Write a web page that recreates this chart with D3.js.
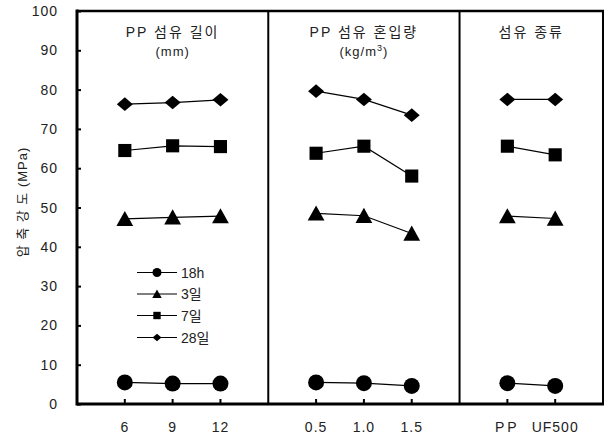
<!DOCTYPE html>
<html>
<head>
<meta charset="utf-8">
<script src="https://cdn.jsdelivr.net/npm/d3@7"></script>
<style>
  body { margin: 0; background: #fff; }
  text { font-family: "Liberation Sans", Arial, "Noto Sans CJK KR", sans-serif; fill: #222; }
</style>
</head>
<body>
<div id="chart"></div>
<script>
// panels (groups) and categories
var groups = ["PP 섬유 길이", "PP 섬유 혼입량", "섬유 종류"];
var categories = ["6", "9", "12", "0.5", "1.0", "1.5", "PP", "UF500"];
var groupOf = [0, 0, 0, 1, 1, 1, 2, 2];

// compressive strength (MPa)
var seriesNames = ["18h", "3일", "7일", "28일"];
var h18 = [5.5, 5.2, 5.2, 5.5, 5.3, 4.6, 5.3, 4.6];
var d3d = [47.1, 47.5, 47.8, 48.5, 47.9, 43.4, 47.8, 47.2];
var d7 = [64.5, 65.7, 65.5, 63.8, 65.6, 58.0, 65.6, 63.4];
var d28 = [76.3, 76.7, 77.4, 79.6, 77.5, 73.5, 77.5, 77.5];

var yTicks = [0, 10, 20, 30, 40, 50, 60, 70, 80, 90, 100];

function init() {
    chart();
}

function marker(sel, type, s) {
    // s = half size
    if (type == "circle") {
        sel.append("circle").attr("r", s).attr("fill", "#000");
    } else if (type == "triangle") {
        sel.append("path").attr("d", "M0," + (-s) + "L" + (s * 1.05) + "," + (s * 0.9) + "L" + (-s * 1.05) + "," + (s * 0.9) + "Z").attr("fill", "#000");
    } else if (type == "square") {
        sel.append("rect").attr("x", -s * 0.82).attr("y", -s * 0.82).attr("width", s * 1.64).attr("height", s * 1.64).attr("fill", "#000");
    } else {
        sel.append("path").attr("d", "M0," + (-s * 0.85) + "L" + s + ",0L0," + (s * 0.85) + "L" + (-s) + ",0Z").attr("fill", "#000");
    }
}

function chart() {
    var w = 609;
    var h = 438;
    var left = 77, right = 603, top = 11, bottom = 404;

    var svg = d3.select("#chart")
        .append("svg")
        .attr("width", w)
        .attr("height", h);

    // slot index leaves an empty slot between panels
    var slot = categories.map(function (c, i) { return i + groupOf[i]; });
    var x = d3.scaleLinear().domain([-1, categories.length + groups.length - 1]).range([left, right]);
    var y = d3.scaleLinear().domain([0, 100]).range([bottom, top]);

    var data = [h18, d3d, d7, d28];
    var types = ["circle", "triangle", "square", "diamond"];

    // y ticks and labels
    var yAxis = d3.axisRight(y).tickValues(yTicks).tickSize(4).tickFormat("");
    svg.append("g").attr("transform", "translate(" + left + ",0)").call(yAxis)
        .call(function (g) { g.select(".domain").remove(); })
        .selectAll("line").attr("stroke", "#000").attr("stroke-width", 2);

    svg.selectAll(".ylab")
        .data(yTicks)
        .enter()
        .append("text")
        .attr("x", 58)
        .attr("y", function (d) { return y(d); })
        .attr("dy", "0.36em")
        .attr("text-anchor", "end")
        .style("font-size", "14px")
        .style("letter-spacing", "1px")
        .text(function (d) { return d; });

    // x ticks (pointing up) and labels
    svg.selectAll(".xtick")
        .data(slot)
        .enter()
        .append("line")
        .attr("x1", function (d) { return x(d); })
        .attr("x2", function (d) { return x(d); })
        .attr("y1", bottom)
        .attr("y2", bottom - 5)
        .attr("stroke", "#000")
        .attr("stroke-width", 2);

    svg.selectAll(".xlab")
        .data(categories)
        .enter()
        .append("text")
        .attr("x", function (d, i) { return x(slot[i]); })
        .attr("y", 432)
        .attr("text-anchor", "middle")
        .style("font-size", "14px")
        .style("letter-spacing", function (d) { return d == "PP" ? "3px" : "1px"; })
        .text(function (d) { return d; });

    // frame
    svg.append("line").attr("x1", left).attr("x2", left).attr("y1", top - 1.5).attr("y2", bottom + 1.5).attr("stroke", "#000").attr("stroke-width", 3);
    svg.append("line").attr("x1", left).attr("x2", right + 1).attr("y1", bottom).attr("y2", bottom).attr("stroke", "#000").attr("stroke-width", 3);
    svg.append("line").attr("x1", left).attr("x2", right + 1).attr("y1", top).attr("y2", top).attr("stroke", "#000").attr("stroke-width", 2.5);
    svg.append("line").attr("x1", right).attr("x2", right).attr("y1", top).attr("y2", bottom).attr("stroke", "#000").attr("stroke-width", 2);

    // panel dividers
    var dividers = [];
    for (var g = 1; g < groups.length; g++) {
        var lastPrev = d3.max(slot.filter(function (s, i) { return groupOf[i] == g - 1; }));
        dividers.push(lastPrev + 1);
    }
    svg.selectAll(".div")
        .data(dividers)
        .enter()
        .append("line")
        .attr("x1", function (d) { return x(d); })
        .attr("x2", function (d) { return x(d); })
        .attr("y1", top)
        .attr("y2", bottom)
        .attr("stroke", "#000")
        .attr("stroke-width", 2);

    // panel titles
    var edges = [left].concat(dividers.map(function (d) { return x(d); })).concat([right]);
    svg.selectAll(".title")
        .data(groups)
        .enter()
        .append("text")
        .attr("x", function (d, i) { return (edges[i] + edges[i + 1]) / 2; })
        .attr("y", 37)
        .attr("text-anchor", "middle")
        .style("font-size", "14px")
        .style("letter-spacing", "2px")
        .text(function (d) { return d; });

    svg.append("text").attr("x", (edges[0] + edges[1]) / 2).attr("y", 56)
        .attr("text-anchor", "middle").style("font-size", "13px").style("letter-spacing", "1px")
        .text("(mm)");
    var kg = svg.append("text").attr("x", (edges[1] + edges[2]) / 2).attr("y", 56)
        .attr("text-anchor", "middle").style("font-size", "13px").style("letter-spacing", "1px");
    kg.append("tspan").text("(kg/m");
    kg.append("tspan").attr("dy", -5).style("font-size", "9px").text("3");
    kg.append("tspan").attr("dy", 5).text(")");

    // y label
    svg.append("text")
        .attr("transform", "translate(27,202) rotate(-90)")
        .attr("text-anchor", "middle")
        .style("font-size", "13px")
        .style("letter-spacing", "1px")
        .text("압 축 강 도 (MPa)");

    // series lines and markers
    var line = d3.line()
        .x(function (d) { return x(d.s); })
        .y(function (d) { return y(d.v); });

    data.forEach(function (vals, k) {
        for (var g = 0; g < groups.length; g++) {
            var pts = [];
            vals.forEach(function (v, i) { if (groupOf[i] == g) pts.push({ s: slot[i], v: v }); });
            svg.append("path")
                .datum(pts)
                .attr("d", line)
                .attr("fill", "none")
                .attr("stroke", "#000")
                .attr("stroke-width", 1.2);
        }
        svg.selectAll(".m" + k)
            .data(vals)
            .enter()
            .append("g")
            .attr("transform", function (d, i) { return "translate(" + x(slot[i]) + "," + y(d) + ")"; })
            .each(function () { marker(d3.select(this), types[k], 8); });
    });

    // legend
    var legY = [272.5, 294, 315.5, 337.5];
    seriesNames.forEach(function (name, k) {
        svg.append("line").attr("x1", 137).attr("x2", 177).attr("y1", legY[k]).attr("y2", legY[k])
            .attr("stroke", "#000").attr("stroke-width", 1.2);
        var gm = svg.append("g").attr("transform", "translate(157," + legY[k] + ")");
        marker(gm, types[k], 4.5);
        svg.append("text").attr("x", 181).attr("y", legY[k]).attr("dy", "0.36em")
            .style("font-size", "14px").text(name);
    });
}

window.onload = init;
</script>
</body>
</html>
